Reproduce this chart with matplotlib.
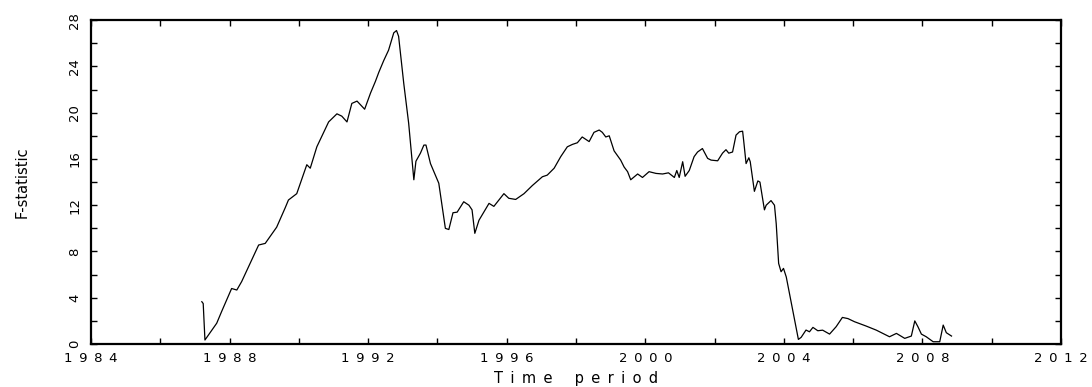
import matplotlib
matplotlib.use('Agg')
import matplotlib.pyplot as plt
from matplotlib.ticker import MultipleLocator, FixedLocator

# F-statistic over time
years = [1987.20, 1987.24, 1987.29, 1987.39, 1987.63, 1987.77, 1988.06, 1988.21,
         1988.35, 1988.84, 1989.03, 1989.36, 1989.61, 1989.70, 1989.94, 1990.23,
         1990.33, 1990.52, 1990.86, 1991.10, 1991.24, 1991.39, 1991.53, 1991.68,
         1991.90, 1992.07, 1992.21, 1992.31, 1992.45, 1992.59, 1992.74, 1992.82,
         1992.88, 1993.03, 1993.17, 1993.32, 1993.38, 1993.51, 1993.61, 1993.67,
         1993.80, 1994.04, 1994.23, 1994.33, 1994.45, 1994.57, 1994.76, 1994.91,
         1995.00, 1995.08, 1995.20, 1995.49, 1995.63, 1995.92, 1996.06, 1996.26,
         1996.50, 1996.74, 1997.03, 1997.17, 1997.37, 1997.56, 1997.75, 1997.90,
         1998.04, 1998.18, 1998.38, 1998.52, 1998.67, 1998.76, 1998.86, 1998.96,
         1999.10, 1999.29, 1999.39, 1999.49, 1999.58, 1999.78, 1999.92, 2000.11,
         2000.31, 2000.50, 2000.67, 2000.84, 2000.91, 2000.98, 2001.08, 2001.15,
         2001.27, 2001.41, 2001.51, 2001.65, 2001.80, 2001.90, 2002.09, 2002.23,
         2002.33, 2002.41, 2002.52, 2002.62, 2002.72, 2002.81, 2002.84, 2002.91,
         2002.99, 2003.03, 2003.15, 2003.25, 2003.31, 2003.44, 2003.49, 2003.63,
         2003.73, 2003.78, 2003.85, 2003.92, 2003.99, 2004.07, 2004.16, 2004.31,
         2004.42, 2004.50, 2004.64, 2004.74, 2004.84, 2004.98, 2005.12, 2005.32,
         2005.51, 2005.69, 2005.85, 2006.04, 2006.38, 2006.67, 2007.05, 2007.25,
         2007.49, 2007.68, 2007.78, 2007.87, 2007.97, 2008.11, 2008.31, 2008.50,
         2008.60, 2008.69, 2008.84]
fstat = [3.66, 3.5, 0.35, 0.78, 1.8, 2.8, 4.8, 4.67,
         5.4, 8.56, 8.7, 10.1, 11.8, 12.45, 13.0, 15.5,
         15.2, 17.05, 19.2, 19.9, 19.7, 19.2, 20.8, 21.0,
         20.3, 21.7, 22.7, 23.5, 24.5, 25.4, 26.9, 27.1,
         26.6, 22.5, 19.1, 14.2, 15.8, 16.5, 17.2, 17.2,
         15.6, 13.9, 10.0, 9.9, 11.35, 11.4, 12.3, 12.0,
         11.6, 9.57, 10.7, 12.16, 11.9, 13.0, 12.6, 12.5,
         13.0, 13.7, 14.46, 14.6, 15.2, 16.2, 17.05, 17.26,
         17.4, 17.9, 17.5, 18.3, 18.5, 18.3, 17.9, 18.0,
         16.7, 15.9, 15.3, 14.9, 14.2, 14.7, 14.4, 14.9,
         14.75, 14.7, 14.8, 14.4, 15.0, 14.4, 15.76, 14.5,
         15.0, 16.2, 16.6, 16.9, 16.05, 15.9, 15.84, 16.5,
         16.8, 16.5, 16.6, 18.06, 18.35, 18.4, 17.6, 15.6,
         16.1, 15.76, 13.2, 14.1, 14.0, 11.6, 12.0, 12.4,
         12.0, 10.4, 6.97, 6.25, 6.54, 5.8, 4.4, 2.07,
         0.4, 0.58, 1.21, 1.06, 1.44, 1.15, 1.2, 0.86,
         1.5, 2.3, 2.2, 1.93, 1.55, 1.2, 0.63, 0.92,
         0.49, 0.69, 2.0, 1.5, 0.86, 0.63, 0.2, 0.2,
         1.64, 0.98, 0.69]

xticks = [1984, 1988, 1992, 1996, 2000, 2004, 2008, 2012]
yticks = [0, 4, 8, 12, 16, 20, 24, 28]

fig = plt.figure(figsize=(10.92, 3.87), dpi=100)
ax = fig.add_axes([0.0833, 0.111, 0.8883, 0.837])

ax.plot(years, fstat, color='black', lw=0.9)

ax.set_xlim(1984, 2012)
ax.set_ylim(0, 28)

ax.xaxis.set_major_locator(FixedLocator(xticks))
ax.xaxis.set_minor_locator(MultipleLocator(2))
ax.yaxis.set_major_locator(FixedLocator(yticks))
ax.yaxis.set_minor_locator(MultipleLocator(2))

# spaced-out digits like the original plotting package
ax.set_xticklabels(['\u2002'.join(str(y)) for y in xticks], fontsize=9.5)
ax.set_yticklabels([str(v) for v in yticks], rotation=90, va='center', fontsize=9.5)

ax.tick_params(which='both', direction='in', length=4, width=1,
               top=True, right=True, color='black')
ax.tick_params(axis='x', pad=6)
ax.tick_params(axis='y', pad=7)

for s in ax.spines.values():
    s.set_linewidth(1.6)

ax.set_xlabel('\u2002'.join('Time') + '\u2002\u2002\u2002' + '\u2002'.join('period'),
              fontsize=10.5, labelpad=4)
ax.set_ylabel('F-statistic', fontsize=10.5, labelpad=28)

fig.savefig('out.png', dpi=100)
